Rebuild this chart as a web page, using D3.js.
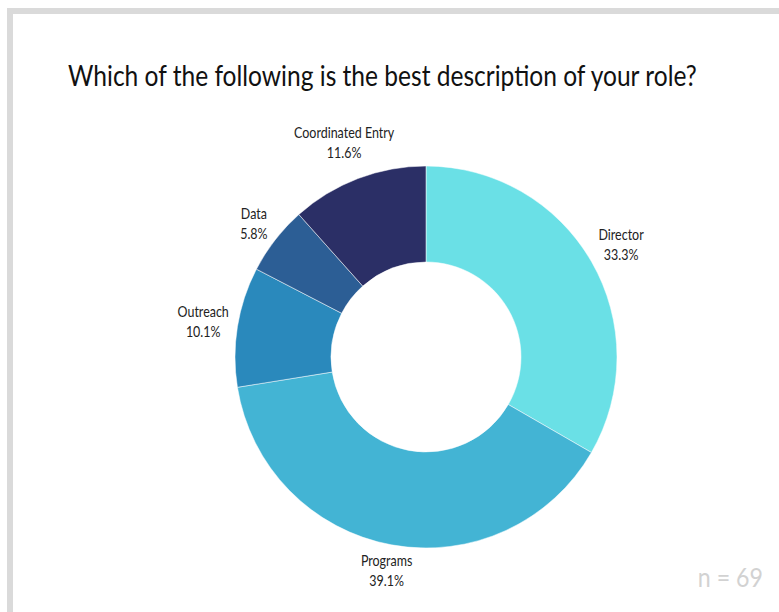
<!DOCTYPE html>
<html>
<head>
<meta charset="utf-8">
<script src="https://cdn.jsdelivr.net/npm/d3@7"></script>
<style>
  html, body { margin: 0; padding: 0; background: #ffffff; }
  svg { display: block; }
  .cond { font-family: Lato, "Liberation Sans", sans-serif; }
</style>
</head>
<body>
<svg id="chart" width="779" height="612"></svg>
<script>
// Survey responses by role (n = 69), clockwise from 12 o'clock
const roles = ["Director", "Programs", "Outreach", "Data", "Coordinated Entry"];
const counts = [23, 27, 7, 4, 8];
const colors = ["#6ae0e6", "#43b4d4", "#2a89bc", "#2c5e95", "#2b2f66"];
const titleText = "Which of the following is the best description of your role?";
const sampleSize = 69;

const width = 779, height = 612;
const cx = 426, cy = 357;
const outerR = 191, innerR = 95;
const squeeze = 0.86; // horizontal condensing for the narrow label face

const svg = d3.select("#chart");

// Light grey frame
svg.append("rect")
  .attr("x", 10).attr("y", 11)
  .attr("width", width + 20).attr("height", height + 20)
  .attr("fill", "#ffffff")
  .attr("stroke", "#dadada")
  .attr("stroke-width", 6);

// Title, condensed to span its line
const titleG = svg.append("g");
const title = titleG.append("text")
  .attr("class", "cond")
  .attr("x", 0).attr("y", 0)
  .attr("font-size", 29)
  .attr("fill", "#111")
  .text(titleText);
const tw = title.node().getBBox().width;
titleG.attr("transform", `translate(68,86) scale(${629 / tw},1)`);

const total = d3.sum(counts);
const data = roles.map((r, i) => ({ role: r, value: counts[i], color: colors[i] }));

const pie = d3.pie().value(d => d.value).sort(null);
const arc = d3.arc().innerRadius(innerR).outerRadius(outerR);

const g = svg.append("g").attr("transform", `translate(${cx},${cy})`);
const arcs = pie(data);

g.selectAll("path.slice")
  .data(arcs)
  .join("path")
  .attr("class", "slice")
  .attr("d", arc)
  .attr("fill", d => d.data.color)
  .attr("stroke", "#ffffff")
  .attr("stroke-width", 0.5);

// Two-line labels placed just outside the ring along each slice's mid-angle
const fmt = v => (Math.round(v / total * 1000) / 10).toFixed(1) + "%";
const gap = 7;
const labelG = g.selectAll("g.lbl")
  .data(arcs)
  .join("g")
  .attr("class", "lbl");

const labels = labelG.append("text")
  .attr("class", "cond")
  .attr("text-anchor", "middle")
  .attr("font-size", 14.5)
  .attr("fill", "#222");

labels.append("tspan").attr("x", 0).attr("dy", 0).text(d => d.data.role);
labels.append("tspan").attr("x", 0).attr("dy", 20).text(d => fmt(d.data.value));

labels.each(function(d) {
  const bb = this.getBBox();
  const a = (d.startAngle + d.endAngle) / 2;
  const ux = Math.sin(a), uy = -Math.cos(a);
  const hw = bb.width * squeeze / 2, hh = bb.height / 2;
  const support = Math.abs(ux) * hw + Math.abs(uy) * hh * 0.8;
  const r = outerR + gap + support;
  const by = bb.y + hh;
  d3.select(this.parentNode)
    .attr("transform", `translate(${ux * r},${uy * r - by}) scale(${squeeze},1)`);
});

// Sample size note
svg.append("text")
  .attr("class", "cond")
  .attr("x", 0).attr("y", 0)
  .attr("text-anchor", "end")
  .attr("font-size", 27)
  .attr("fill", "#d2d2d2")
  .attr("transform", `translate(763,587) scale(${squeeze},1)`)
  .text("n = " + sampleSize);
</script>
</body>
</html>
